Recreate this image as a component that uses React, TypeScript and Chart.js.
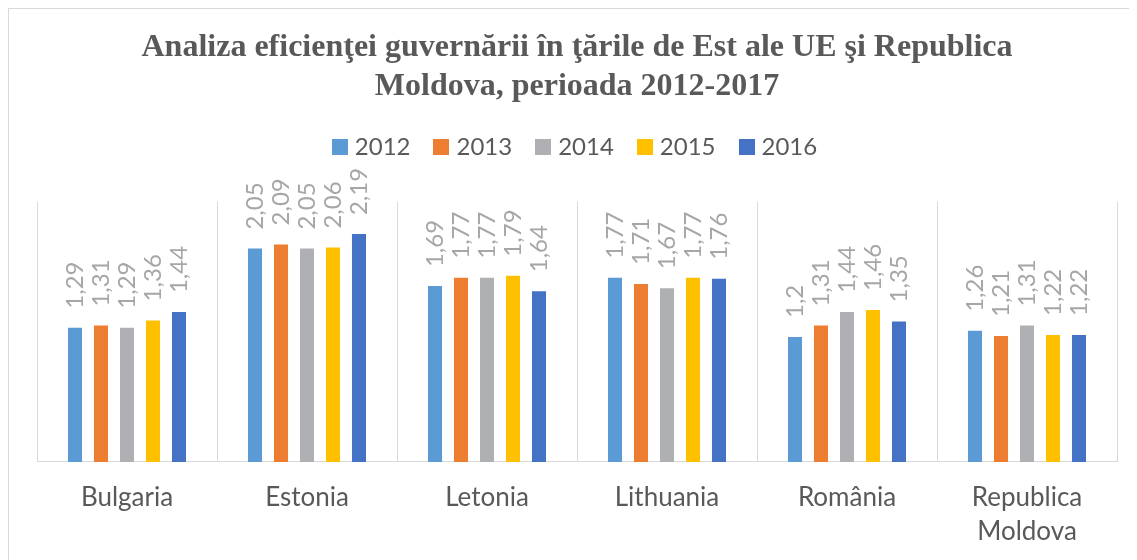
import React, { useEffect, useRef } from "react";
import { Chart, registerables } from "chart.js";

Chart.register(...registerables);

const categories: (string | string[])[] = [
  "Bulgaria",
  "Estonia",
  "Letonia",
  "Lithuania",
  "România",
  ["Republica", "Moldova"],
];

const years = ["2012", "2013", "2014", "2015", "2016"];

const values2012 = [1.29, 2.05, 1.69, 1.77, 1.2, 1.26];
const values2013 = [1.31, 2.09, 1.77, 1.71, 1.31, 1.21];
const values2014 = [1.29, 2.05, 1.77, 1.67, 1.44, 1.31];
const values2015 = [1.36, 2.06, 1.79, 1.77, 1.46, 1.22];
const values2016 = [1.44, 2.19, 1.64, 1.76, 1.35, 1.22];

const seriesValues = [values2012, values2013, values2014, values2015, values2016];
const seriesColors = ["#5b9bd5", "#ed7d31", "#afb0b3", "#ffc000", "#4472c4"];

const titleLines = [
  "Analiza eficienţei guvernării în ţările de Est ale UE şi Republica",
  "Moldova, perioada 2012-2017",
];

const fmt = (v: number) => String(v).replace(".", ",");

function makeSwatch(color: string): HTMLCanvasElement {
  const c = document.createElement("canvas");
  c.width = 16;
  c.height = 16;
  const cx = c.getContext("2d")!;
  cx.fillStyle = color;
  cx.fillRect(0, 0, 16, 16);
  return c;
}

const barLabels = {
  id: "barLabels",
  afterDatasetsDraw(chart: any) {
    const ctx = chart.ctx;
    ctx.save();
    ctx.font = "24px Lato";
    ctx.fillStyle = "#a6a6a6";
    ctx.textAlign = "left";
    ctx.textBaseline = "middle";
    chart.data.datasets.forEach((ds: any, i: number) => {
      const meta = chart.getDatasetMeta(i);
      meta.data.forEach((bar: any, j: number) => {
        const v = ds.data[j];
        ctx.save();
        ctx.translate(bar.x, bar.y - 19);
        ctx.rotate(-Math.PI / 2);
        ctx.fillText(fmt(v), 0, 0);
        ctx.restore();
      });
    });
    ctx.restore();
  },
};

export default function App() {
  const ref = useRef<HTMLCanvasElement | null>(null);

  useEffect(() => {
    if (!ref.current) return;
    const swatches = seriesColors.map(makeSwatch);
    const chart = new Chart(ref.current, {
      type: "bar",
      data: {
        labels: categories,
        datasets: years.map((y, i) => ({
          label: y,
          data: seriesValues[i],
          backgroundColor: seriesColors[i],
          categoryPercentage: 0.722,
          barPercentage: 0.54,
        })),
      },
      options: {
        animation: false,
        responsive: true,
        maintainAspectRatio: false,
        layout: { padding: { left: 28, right: 14, top: 0, bottom: 13 } },
        plugins: {
          title: {
            display: true,
            text: titleLines,
            color: "#595959",
            font: { family: "'Liberation Serif'", size: 32, weight: "bold", lineHeight: 1.2 },
            padding: { top: 20, bottom: 1 },
          },
          subtitle: {
            display: true,
            text: "",
            weight: 500,
            font: { size: 1, lineHeight: 1 },
            padding: { top: 0, bottom: 32 },
          } as any,
          legend: {
            display: true,
            position: "top",
            labels: {
              color: "#595959",
              font: { family: "Lato", size: 24 },
              usePointStyle: true,
              pointStyleWidth: 6,
              boxHeight: 16,
              padding: 28,
              generateLabels: (c: any) => {
                const items = Chart.defaults.plugins.legend.labels.generateLabels(c);
                return items.map((it: any, i: number) => ({ ...it, pointStyle: swatches[i] }));
              },
            },
          },
          tooltip: { enabled: false },
        },
        scales: {
          x: {
            grid: { color: "#d9d9d9", drawTicks: false, offset: true },
            border: { color: "#d9d9d9" },
            ticks: {
              color: "#595959",
              font: { family: "Lato", size: 26, lineHeight: 1.31 },
              padding: 19,
              maxRotation: 0,
            },
          },
          y: { display: false, min: 0, max: 2.5 },
        },
      },
      plugins: [barLabels],
    });
    return () => chart.destroy();
  }, []);

  return (
    <div style={{ width: 1122, height: 572, border: "1px solid #d9d9d9", position: "relative" }}>
      <canvas ref={ref} />
    </div>
  );
}
